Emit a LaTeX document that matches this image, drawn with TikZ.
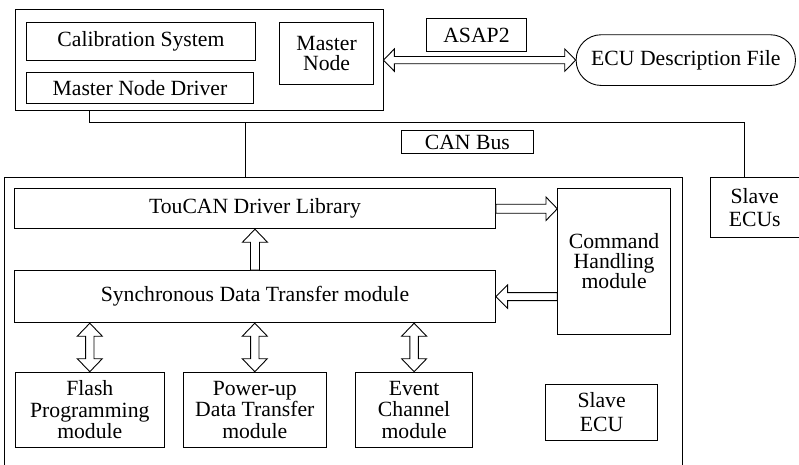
\documentclass[tikz,border=0pt]{standalone}
\usepackage{fontspec}
\setmainfont{Liberation Serif}
\usetikzlibrary{calc}

% hollow block arrows (sizes in pt)
% vertical double-headed: #1 upper end, #2 lower end
\newcommand{\blockDblV}[2]{\draw[blockarrow] let \p1=#1, \p2=#2 in
  (\x1,\y1) -- (\x1+12.5pt,\y1-13pt) -- (\x1+4.2pt,\y1-13pt) -- (\x1+4.2pt,\y2+13pt)
  -- (\x1+12.5pt,\y2+13pt) -- (\x1,\y2) -- (\x1-12.5pt,\y2+13pt) -- (\x1-4.2pt,\y2+13pt)
  -- (\x1-4.2pt,\y1-13pt) -- (\x1-12.5pt,\y1-13pt) -- cycle;}
% vertical single, pointing up: #1 tail (below), #2 tip (above)
\newcommand{\blockUp}[2]{\draw[blockarrow] let \p1=#1, \p2=#2 in
  (\x2,\y2) -- (\x2+12.5pt,\y2-13pt) -- (\x2+4.5pt,\y2-13pt) -- (\x2+4.5pt,\y1)
  -- (\x2-4.5pt,\y1) -- (\x2-4.5pt,\y2-13pt) -- (\x2-12.5pt,\y2-13pt) -- cycle;}
% horizontal single, pointing right: #1 tail, #2 tip
\newcommand{\blockRight}[2]{\draw[blockarrow] let \p1=#1, \p2=#2 in
  (\x2,\y2) -- (\x2-11.3pt,\y2+11.7pt) -- (\x2-11.3pt,\y2+4.5pt) -- (\x1,\y2+4.5pt)
  -- (\x1,\y2-4.5pt) -- (\x2-11.3pt,\y2-4.5pt) -- (\x2-11.3pt,\y2-11.7pt) -- cycle;}
% horizontal single, pointing left: #1 tail, #2 tip
\newcommand{\blockLeft}[2]{\draw[blockarrow] let \p1=#1, \p2=#2 in
  (\x2,\y2) -- (\x2+11.7pt,\y2+11.7pt) -- (\x2+11.7pt,\y2+4pt) -- (\x1,\y2+4pt)
  -- (\x1,\y2-4pt) -- (\x2+11.7pt,\y2-4pt) -- (\x2+11.7pt,\y2-11.7pt) -- cycle;}
% horizontal double-headed: #1 left end, #2 right end
\newcommand{\blockDblH}[2]{\draw[blockarrow] let \p1=#1, \p2=#2 in
  (\x1,\y1) -- (\x1+11pt,\y1+11.2pt) -- (\x1+11pt,\y1+3.6pt) -- (\x2-11pt,\y1+3.6pt)
  -- (\x2-11pt,\y1+11.2pt) -- (\x2,\y1) -- (\x2-11pt,\y1-11.2pt) -- (\x2-11pt,\y1-3.6pt)
  -- (\x1+11pt,\y1-3.6pt) -- (\x1+11pt,\y1-11.2pt) -- cycle;}

\tikzset{
  box/.style={draw, line width=0.9pt, inner sep=0pt, align=center, anchor=north west,
    font=\fontsize{21.7}{21.5}\selectfont},
  blockarrow/.style={draw, fill=white, line width=0.9pt, line join=miter},
  bus/.style={draw, line width=0.9pt},
}

\begin{document}
\begin{tikzpicture}[x=1pt, y=-1pt]
\useasboundingbox (0,0) rectangle (799,464);
\clip (0,0) rectangle (799,464);

% master side
\node[box, minimum width=367.8pt, minimum height=100.7pt] (master) at (14.7,9.3) {};
\node[box, minimum width=228.4pt, minimum height=37.7pt] (calib) at (26.3,22.3) {Calibration System};
\node[box, minimum width=226.4pt, minimum height=31.3pt] (mnd) at (26.3,72) {Master Node Driver};
\node[box, minimum width=94.3pt, minimum height=61.7pt, font=\fontsize{21.7}{20.4}\selectfont]
  (mnode) at (279,22.3) {Master\\Node};
\node[box, minimum width=100pt, minimum height=32.7pt] (asap) at (426,18.3) {ASAP2};
\node[box, minimum width=219.3pt, minimum height=50.7pt, rounded corners=25pt]
  (ecufile) at (575.7,34.3) {ECU Description File};

% bus
\node[box, minimum width=131.7pt, minimum height=23.3pt] (canbus) at (401,130) {CAN Bus};
\node[box, minimum width=88.5pt, minimum height=60.6pt, font=\fontsize{21.7}{23}\selectfont]
  (slaves) at (710,176.7) {Slave\\ECUs};

% slave ECU
\node[box, minimum width=677.5pt, minimum height=310pt] (slave) at (4,177.3) {};
\node[box, minimum width=481pt, minimum height=40pt] (toucan) at (14,188.3) {TouCAN Driver Library};
\node[box, minimum width=481pt, minimum height=52.3pt] (sync) at (14,270) {Synchronous Data Transfer module};
\node[box, minimum width=112.7pt, minimum height=146.5pt, font=\fontsize{21.7}{20}\selectfont]
  (cmd) at (557.3,187.5) {Command\\Handling\\module};
\node[box, minimum width=149.3pt, minimum height=75pt] (flash) at (14.7,371.7) {Flash\\Programming\\module};
\node[box, minimum width=143.3pt, minimum height=75pt] (power) at (182.7,371.7) {Power-up\\Data Transfer\\module};
\node[box, minimum width=116.7pt, minimum height=75pt] (event) at (355.3,371.7) {Event\\Channel\\module};
\node[box, minimum width=112.3pt, minimum height=56pt, font=\fontsize{21.7}{24}\selectfont]
  (slaveecu) at (545,384) {Slave\\ECU};

% CAN bus wiring
\coordinate (busW) at (89.3,122);
\coordinate (busE) at (744.3,122);
\coordinate (busT) at (245.7,122);
\draw[bus] (master.south -| busW) -- (busW) -- (busE) -- (busE |- slaves.north);
\draw[bus] (busT) -- (busT |- slave.north);

% block arrows
\blockDblH{(master.east |- ecufile.west)}{(ecufile.west)}
\blockUp{(sync.north)}{(toucan.south)}
\blockRight{(toucan.east)}{(cmd.west |- toucan.east)}
\blockLeft{(cmd.west |- sync.east)}{(sync.east)}
\blockDblV{(flash.north |- sync.south)}{(flash.north)}
\blockDblV{(power.north |- sync.south)}{(power.north)}
\blockDblV{(event.north |- sync.south)}{(event.north)}
\end{tikzpicture}
\end{document}
